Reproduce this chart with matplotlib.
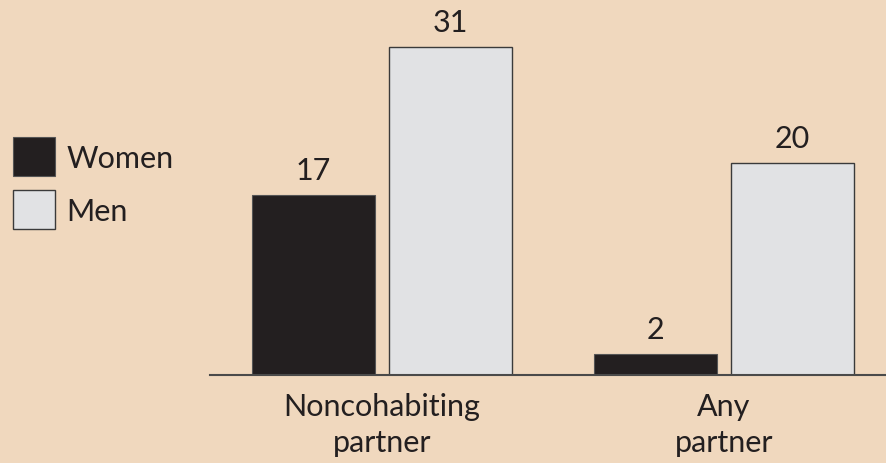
#Bar chart of women vs men by partner type

import matplotlib
matplotlib.use('Agg')
import matplotlib.pyplot as plt
import numpy as np


#Data
categories = ['Noncohabiting\npartner', 'Any\npartner']
women = [17, 2]
men = [31, 20]

#Colors
bg_color = '#F0D8BE'
women_color = '#231F20'
men_color = '#E1E2E4'
text_color = '#231F20'


def main():

    plt.rcParams['font.family'] = ['Lato', 'DejaVu Sans']

    fig = plt.figure(figsize=(8.86, 4.64), dpi=100)
    fig.patch.set_facecolor(bg_color)

    #Axes placed so the baseline sits where it does in the reference
    ax = fig.add_axes([210 / 886, 88 / 464, 1 - 210 / 886, 376 / 464])
    ax.set_facecolor(bg_color)

    x = np.arange(len(categories))
    width = 0.36
    offset = 0.2

    bars_w = ax.bar(x - offset, women, width, color=women_color,
                    edgecolor='#555555', linewidth=0.8, label='Women')
    bars_m = ax.bar(x + offset, men, width, color=men_color,
                    edgecolor='#3a3a3a', linewidth=1.0, label='Men')

    #Value labels
    for bars in (bars_w, bars_m):
        ax.bar_label(bars, padding=8, fontsize=22, color=text_color)

    ax.set_xlim(-0.502, 1.474)
    ax.set_ylim(0, 35.5)

    ax.set_xticks(x)
    ax.set_xticklabels(categories, fontsize=22, color=text_color, linespacing=1.35)
    ax.tick_params(axis='x', length=0, pad=12)
    ax.set_yticks([])

    for side in ['top', 'right', 'left']:
        ax.spines[side].set_visible(False)
    ax.spines['bottom'].set_color('#4a4a4a')
    ax.spines['bottom'].set_linewidth(1.5)

    #Legend on the left
    fig.legend(handles=[bars_w, bars_m], labels=['Women', 'Men'],
               loc='upper left', bbox_to_anchor=(13 / 886, 1 - 138 / 464),
               frameon=False, fontsize=22, borderpad=0, borderaxespad=0,
               handlelength=1.38, handleheight=1.6, handletextpad=0.36,
               labelspacing=0.45, labelcolor=text_color)

    fig.savefig('out.png', dpi=100, facecolor=bg_color)


if __name__ == "__main__":
    main()
